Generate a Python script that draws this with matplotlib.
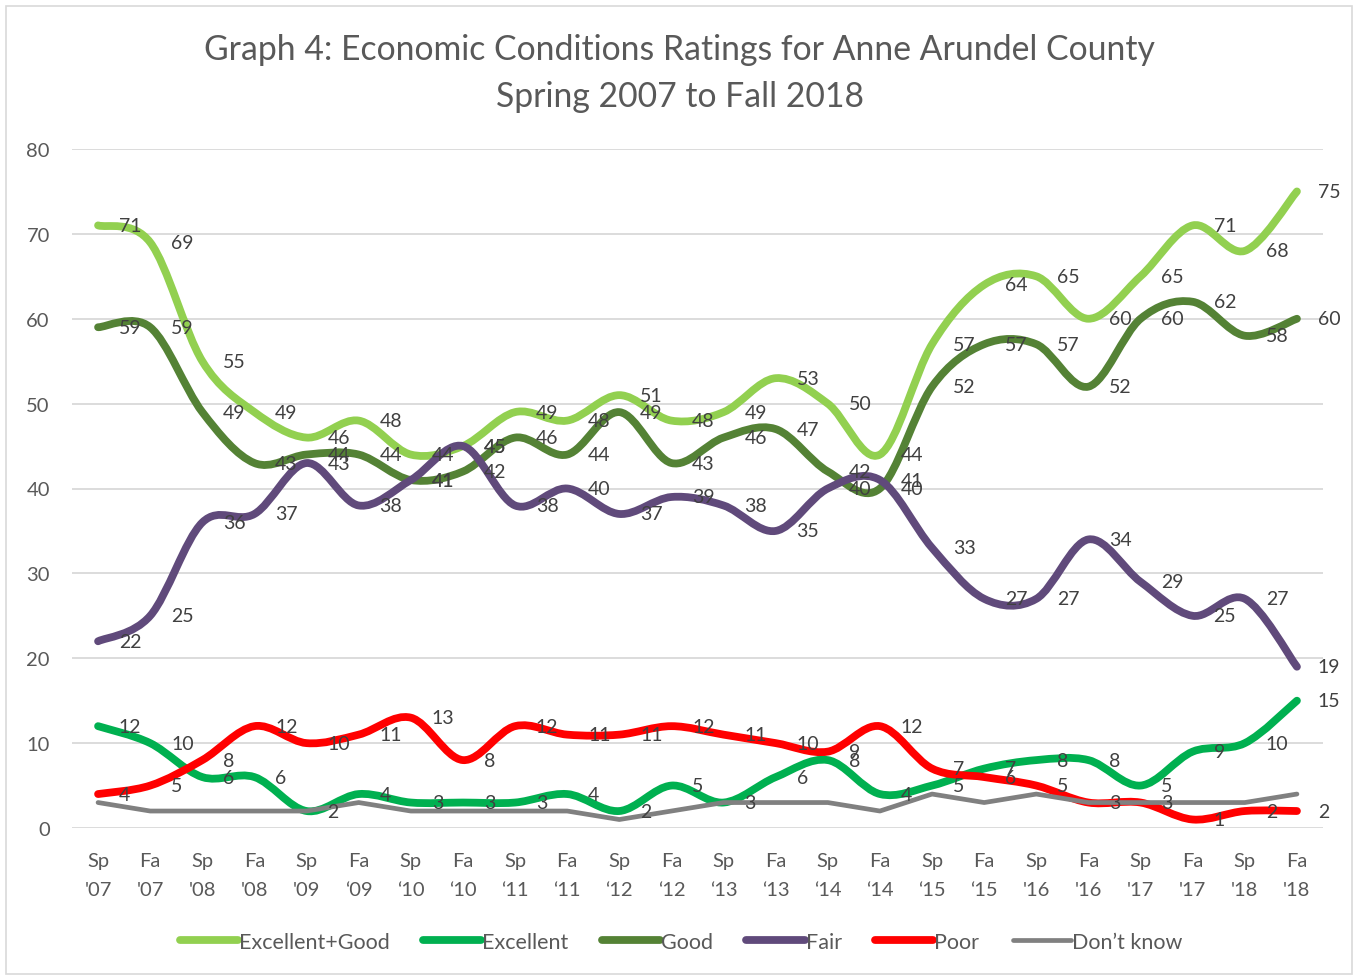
import matplotlib

matplotlib.use("Agg")
import matplotlib.pyplot as plt
import numpy as np
from matplotlib.lines import Line2D
from matplotlib.patches import PathPatch, Rectangle
from matplotlib.path import Path

plt.rcParams["font.family"] = ["Lato", "DejaVu Sans"]

# ---- data ----
seasons = ["Sp", "Fa"] * 12
years = ["'07", "'07", "'08", "'08", "'09", "\u201809", "\u201810", "\u201810",
         "\u201811", "\u201811", "\u201812", "\u201812", "\u201813", "\u201813",
         "\u201814", "\u201814", "\u201815", "\u201815", "'16", "'16", "'17", "'17",
         "'18", "'18"]
excellent_good = [71, 69, 55, 49, 46, 48, 44, 45, 49, 48, 51, 48,
                  49, 53, 50, 44, 57, 64, 65, 60, 65, 71, 68, 75]
excellent = [12, 10, 6, 6, 2, 4, 3, 3, 3, 4, 2, 5,
             3, 6, 8, 4, 5, 7, 8, 8, 5, 9, 10, 15]
good = [59, 59, 49, 43, 44, 44, 41, 42, 46, 44, 49, 43,
        46, 47, 42, 40, 52, 57, 57, 52, 60, 62, 58, 60]
fair = [22, 25, 36, 37, 43, 38, 41, 45, 38, 40, 37, 39,
        38, 35, 40, 41, 33, 27, 27, 34, 29, 25, 27, 19]
poor = [4, 5, 8, 12, 10, 11, 13, 8, 12, 11, 11, 12,
        11, 10, 9, 12, 7, 6, 5, 3, 3, 1, 2, 2]
dont_know = [3, 2, 2, 2, 2, 3, 2, 2, 2, 2, 1, 2,
             3, 3, 3, 2, 4, 3, 4, 3, 3, 3, 3, 4]

TEXT = "#595959"
LABEL = "#404040"

# (name, values, colour, width, smoothed, labelled)
SERIES = [
    ("Excellent+Good", excellent_good, "#92D050", 5.6, True, True),
    ("Excellent", excellent, "#00B050", 5.6, True, True),
    ("Good", good, "#548235", 5.6, True, True),
    ("Fair", fair, "#604A7B", 5.6, True, True),
    ("Poor", poor, "#FF0000", 5.6, True, True),
    ("Don\u2019t know", dont_know, "#808080", 3.4, False, False),
]


def smooth_path(x, y):
    """Excel-style smoothed line: cubic Bezier through every data point."""
    pts = np.column_stack([x, y]).astype(float)
    n = len(pts)
    verts = [pts[0]]
    codes = [Path.MOVETO]
    for i in range(n - 1):
        p0 = pts[max(i - 1, 0)]
        p1 = pts[i]
        p2 = pts[i + 1]
        p3 = pts[min(i + 2, n - 1)]
        verts += [p1 + (p2 - p0) / 6.0, p2 - (p3 - p1) / 6.0, p2]
        codes += [Path.CURVE4] * 3
    return Path(verts, codes)


fig = plt.figure(figsize=(13.54, 9.78), dpi=100)
fig.patches.append(Rectangle((6 / 1354, 3 / 978), 1346 / 1354, 968 / 978,
                             transform=fig.transFigure, fill=False,
                             edgecolor="#D9D9D9", lw=1.2))
ax = fig.add_axes([72 / 1354, 149 / 978, 1251 / 1354, 679 / 978])

x = np.arange(len(seasons))
for name, vals, col, lw, smooth, labelled in SERIES:
    if smooth:
        ax.add_patch(PathPatch(smooth_path(x, vals), fill=False, edgecolor=col,
                               lw=lw, capstyle="round", joinstyle="round"))
    else:
        ax.plot(x, vals, color=col, lw=lw, solid_capstyle="round",
                solid_joinstyle="round")
    if labelled:
        for xi, v in zip(x, vals):
            ax.annotate(str(v), (xi, v), xytext=(15, 0), textcoords="offset points",
                        ha="left", va="center", fontsize=14, color=LABEL)

ax.set_xlim(-0.5, len(seasons) - 0.5)
ax.set_ylim(0, 80)
ax.set_yticks(range(0, 81, 10))
ax.set_xticks(x)
ax.set_xticklabels([f"{s}\n{y}" for s, y in zip(seasons, years)], linespacing=1.85)
ax.tick_params(axis="both", length=0, labelsize=14.5, labelcolor=TEXT)
ax.tick_params(axis="y", pad=16)
ax.tick_params(axis="x", pad=17)
ax.grid(axis="y", color="#D9D9D9", lw=1.3)
ax.set_axisbelow(True)
for s in ax.spines.values():
    s.set_visible(False)

fig.text(0.502, 1 - 50 / 978, "Graph 4: Economic Conditions Ratings for Anne Arundel County",
         ha="center", va="center", fontsize=24.3, color=TEXT)
fig.text(0.502, 1 - 97 / 978, "Spring 2007 to Fall 2018",
         ha="center", va="center", fontsize=24.3, color=TEXT)

handles = [Line2D([], [], color=c, lw=lw, solid_capstyle="round")
           for _, _, c, lw, _, _ in SERIES]
fig.legend(handles, [s[0] for s in SERIES], loc="center", ncol=6,
           bbox_to_anchor=(0.503, 35 / 978), frameon=False, fontsize=15.5,
           labelcolor=TEXT, handlelength=2.7, handletextpad=0.05, columnspacing=1.55)

fig.savefig("out.png", dpi=100)
